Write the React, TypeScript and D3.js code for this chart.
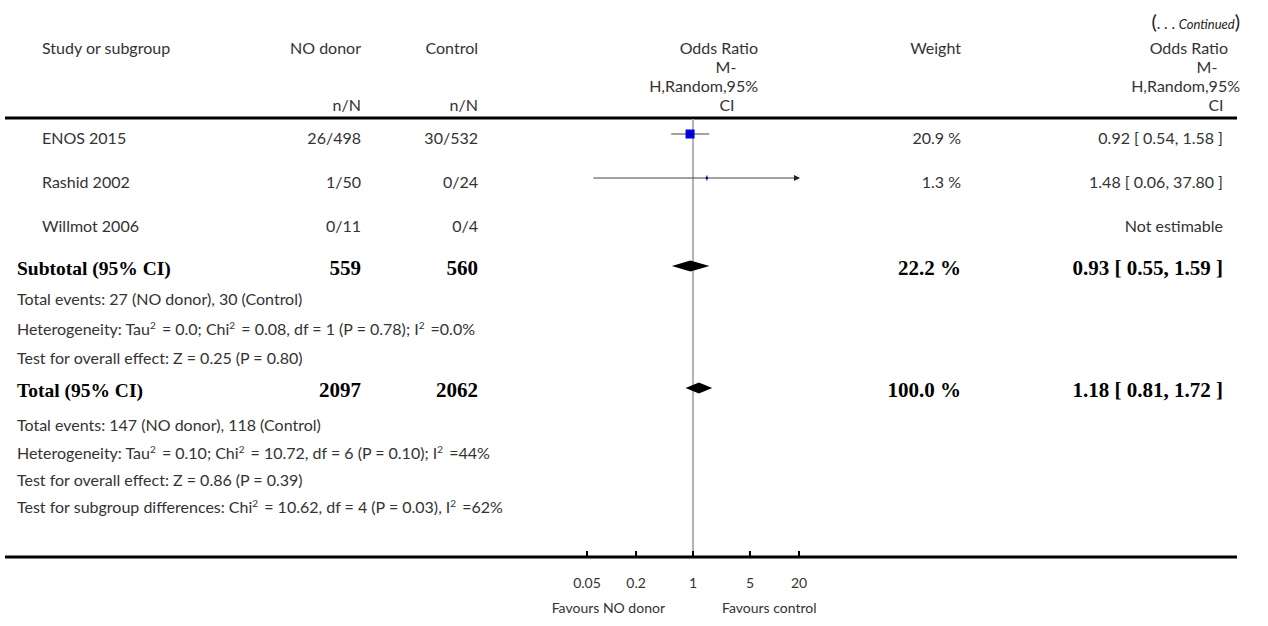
import React from "react";
import * as d3 from "d3";

// study rows
const studies = ["ENOS 2015", "Rashid 2002", "Willmot 2006"];
const noDonorEvents = [26, 1, 0];
const noDonorTotal = [498, 50, 11];
const controlEvents = [30, 0, 0];
const controlTotal = [532, 24, 4];
const weights: (number | null)[] = [20.9, 1.3, null];
const oddsRatio: (number | null)[] = [0.92, 1.48, null];
const ciLow: (number | null)[] = [0.54, 0.06, null];
const ciHigh: (number | null)[] = [1.58, 37.8, null];

// pooled rows
const pooledLabels = ["Subtotal (95% CI)", "Total (95% CI)"];
const pooledNoDonor = [559, 2097];
const pooledControl = [560, 2062];
const pooledWeight = [22.2, 100.0];
const pooledOR = [0.93, 1.18];
const pooledLow = [0.55, 0.81];
const pooledHigh = [1.59, 1.72];

const subgroupStats = [
  "Total events: 27 (NO donor), 30 (Control)",
  "Heterogeneity: Tau^2 = 0.0; Chi^2 = 0.08, df = 1 (P = 0.78); I^2 =0.0%",
  "Test for overall effect: Z = 0.25 (P = 0.80)",
];
const totalStats = [
  "Total events: 147 (NO donor), 118 (Control)",
  "Heterogeneity: Tau^2 = 0.10; Chi^2 = 10.72, df = 6 (P = 0.10); I^2 =44%",
  "Test for overall effect: Z = 0.86 (P = 0.39)",
  "Test for subgroup differences: Chi^2 = 10.62, df = 4 (P = 0.03), I^2 =62%",
];

const tickValues = [0.05, 0.2, 1, 5, 20];
const tickLabels = ["0.05", "0.2", "1", "5", "20"];

const SANS = "Lato, 'Open Sans', sans-serif";
const SERIF = "'Liberation Serif', 'DejaVu Serif', serif";
const GREY = "#333";

// split "^2" into superscripts
function Sup({ text }: { text: string }) {
  const parts = text.split("^2");
  return (
    <>
      {parts.map((p, i) => (
        <React.Fragment key={i}>
          <tspan>{p}</tspan>
          {i < parts.length - 1 && (
            <tspan fontSize={10} dy={-6}>2</tspan>
          )}
          {i < parts.length - 1 && <tspan dy={6}>{"\u2009"}</tspan>}
        </React.Fragment>
      ))}
    </>
  );
}

export default function App() {
  const W = 1268, H = 626;
  const x = d3.scaleLog().domain([0.05, 20]).range([587, 799]);
  const boxSize = d3.scaleSqrt().domain([0, d3.max(weights as number[]) as number]).range([0, 9]);
  const f2 = d3.format(".2f");
  const f1 = d3.format(".1f");
  const ciText = (o: number, l: number, h: number) => `${f2(o)} [ ${f2(l)}, ${f2(h)} ]`;

  const ruleY = 118;
  const axisY = 557;
  const studyY = d3.scaleLinear().domain([0, 1]).range([134, 178]);
  const pooledY = [266, 388];
  const subStatY = [300, 330, 359];
  const totStatY = [426, 454, 481, 508];

  const colNo = 361, colCtl = 478, colW = 961, colOR = 1223;
  const hdr = [54, 73, 92, 111];

  return (
    <svg width={W} height={H} style={{ position: "absolute", left: 0, top: 0, background: "#fff" }}
      fontFamily={SANS} fontSize={16} fill={GREY}>
      {/* continued */}
      <text x={1240} y={29} textAnchor="end" fill="#222">
        <tspan fontSize={20}>(</tspan>
        <tspan fontSize={15}>. . . </tspan>
        <tspan fontStyle="italic" fontSize={13}>Continued</tspan>
        <tspan fontSize={20}>)</tspan>
      </text>

      {/* header */}
      <text x={42} y={hdr[0]}>Study or subgroup</text>
      <text x={colNo} y={hdr[0]} textAnchor="end">NO donor</text>
      <text x={colCtl} y={hdr[0]} textAnchor="end">Control</text>
      <text x={colNo} y={hdr[3]} textAnchor="end">n/N</text>
      <text x={colCtl} y={hdr[3]} textAnchor="end">n/N</text>
      <text x={758} y={hdr[0]} textAnchor="end">Odds Ratio</text>
      <text x={726} y={hdr[1]} textAnchor="middle">M-</text>
      <text x={758} y={hdr[2]} textAnchor="end">H,Random,95%</text>
      <text x={727} y={hdr[3]} textAnchor="middle">CI</text>
      <text x={colW} y={hdr[0]} textAnchor="end">Weight</text>
      <text x={1228} y={hdr[0]} textAnchor="end">Odds Ratio</text>
      <text x={1207} y={hdr[1]} textAnchor="middle">M-</text>
      <text x={1240} y={hdr[2]} textAnchor="end">H,Random,95%</text>
      <text x={1216} y={hdr[3]} textAnchor="middle">CI</text>

      <line x1={5} x2={1237} y1={ruleY} y2={ruleY} stroke="#000" strokeWidth={3} />

      {/* null line */}
      <line x1={x(1)} x2={x(1)} y1={ruleY + 1} y2={axisY} stroke="#b3b3b3" strokeWidth={2} />

      {/* studies */}
      {studies.map((s, i) => {
        const y = studyY(i);
        const ty = y + 10;
        const o = oddsRatio[i], l = ciLow[i], h = ciHigh[i], w = weights[i];
        const hiClip = h != null && h > 20;
        return (
          <g key={s}>
            <text x={42} y={ty}>{s}</text>
            <text x={colNo} y={ty} textAnchor="end">{`${noDonorEvents[i]}/${noDonorTotal[i]}`}</text>
            <text x={colCtl} y={ty} textAnchor="end">{`${controlEvents[i]}/${controlTotal[i]}`}</text>
            {w != null && <text x={colW} y={ty} textAnchor="end">{`${f1(w)} %`}</text>}
            <text x={colOR} y={ty} textAnchor="end">
              {o != null ? ciText(o, l as number, h as number) : "Not estimable"}
            </text>
            {o != null && (
              <g>
                <line x1={x(l as number)} x2={hiClip ? x(20) : x(h as number)} y1={y} y2={y}
                  stroke="#444" strokeWidth={1.2} />
                {hiClip && (
                  <path d={`M${x(20) + 1},${y} l-6,-3 l0,6 z`} fill="#222" />
                )}
                <rect x={x(o) - boxSize(w as number) / 2} y={y - boxSize(w as number) / 2}
                  width={boxSize(w as number)} height={boxSize(w as number)} fill="#0000ee" />
                <line x1={x(o)} x2={x(o)} y1={y - 2.5} y2={y + 2.5} stroke="#111" strokeWidth={1} />
              </g>
            )}
          </g>
        );
      })}

      {/* pooled */}
      {pooledLabels.map((lab, i) => {
        const y = pooledY[i];
        const ty = y + 9;
        const hh = 5.5;
        return (
          <g key={lab} fontFamily={SERIF} fontWeight="bold" fontSize={21} fill="#000">
            <text x={17} y={ty} fontSize={19.5}>{lab}</text>
            <text x={colNo} y={ty} textAnchor="end">{pooledNoDonor[i]}</text>
            <text x={colCtl} y={ty} textAnchor="end">{pooledControl[i]}</text>
            <text x={colW} y={ty} textAnchor="end">{`${f1(pooledWeight[i])} %`}</text>
            <text x={colOR} y={ty} textAnchor="end">{ciText(pooledOR[i], pooledLow[i], pooledHigh[i])}</text>
            <path
              d={`M${x(pooledLow[i])},${y} L${x(pooledOR[i])},${y - hh} L${x(pooledHigh[i])},${y} L${x(pooledOR[i])},${y + hh} Z`}
              fill="#000" />
          </g>
        );
      })}

      {subgroupStats.map((t, i) => (
        <text key={t} x={17} y={subStatY[i] + 5}><Sup text={t} /></text>
      ))}
      {totalStats.map((t, i) => (
        <text key={t} x={17} y={totStatY[i] + 5}><Sup text={t} /></text>
      ))}

      {/* axis */}
      <line x1={5} x2={1237} y1={axisY} y2={axisY} stroke="#000" strokeWidth={3} />
      {tickValues.map((v, i) => (
        <g key={v}>
          <line x1={x(v)} x2={x(v)} y1={axisY - 6} y2={axisY} stroke="#000" strokeWidth={2} />
          <text x={x(v)} y={axisY + 31} textAnchor="middle" fontSize={14}>{tickLabels[i]}</text>
        </g>
      ))}
      <text x={x(1) - 28} y={axisY + 56} textAnchor="end" fontSize={14}>Favours NO donor</text>
      <text x={x(1) + 29} y={axisY + 56} fontSize={14}>Favours control</text>
    </svg>
  );
}
